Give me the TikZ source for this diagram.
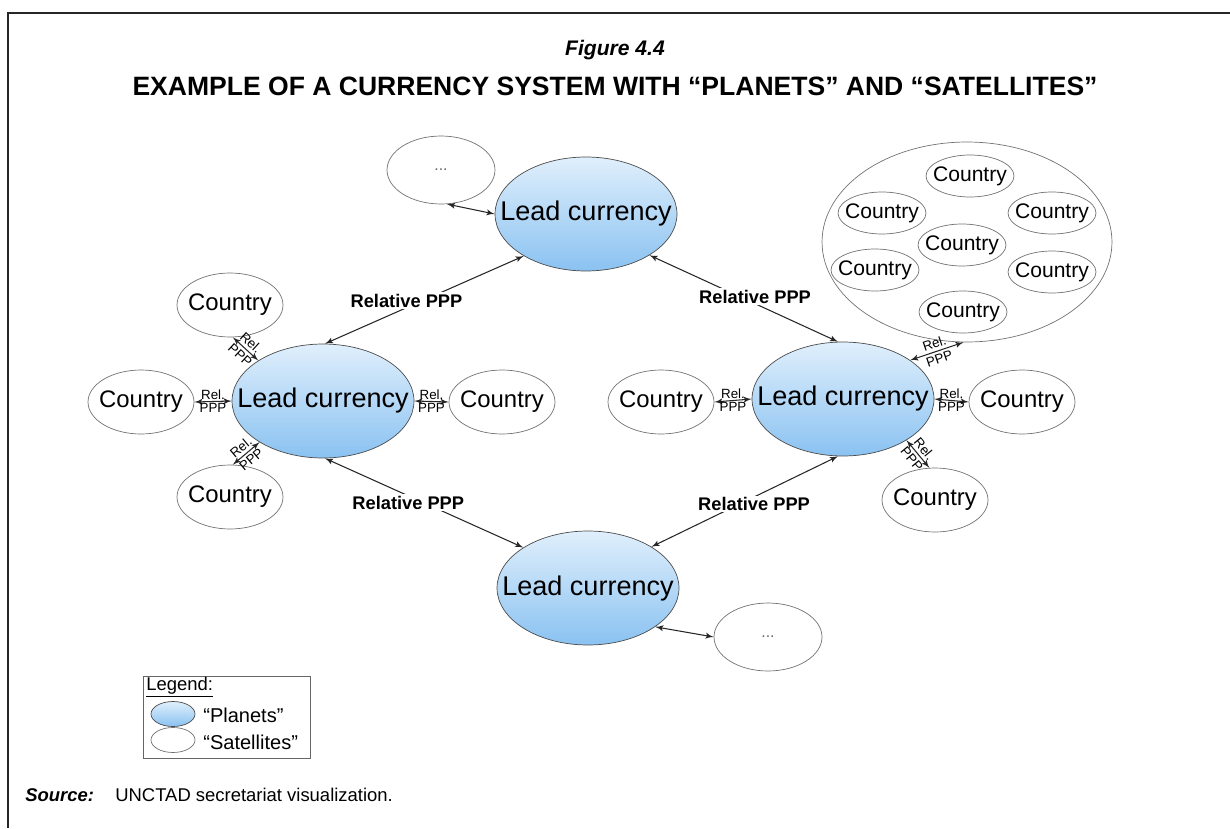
\documentclass[tikz,border=0pt]{standalone}
\usepackage{fontspec}
\setmainfont{Liberation Sans}
\usetikzlibrary{positioning,arrows,shapes.geometric}
\definecolor{planettop}{RGB}{224,239,252}
\definecolor{planetbot}{RGB}{138,194,241}
\tikzset{
    planet/.style = {
        draw=black!70,
        shape=ellipse,
        inner sep=0pt,
        minimum width=3.64cm,
        minimum height=2.28cm,
        top color=planettop,
        bottom color=planetbot,
        label={[inner sep=0pt, font=\fontsize{15.4}{17}\selectfont]center:#1}
    },
    planet/.default=,
    satellite/.style = {
        draw=black!55,
        shape=ellipse,
        inner sep=0pt,
        minimum width=2.12cm,
        minimum height=1.28cm,
        fill=white,
        label={[inner sep=0pt, font=\fontsize{13.6}{15}\selectfont]center:#1}
    },
    satellite/.default=,
    dots/.style = {
        draw=black!55,
        shape=ellipse,
        inner sep=0pt,
        minimum width=2.16cm,
        minimum height=1.36cm,
        fill=white,
        label={[inner sep=0pt, text=black!60, font=\fontsize{9}{10}\selectfont]center:...}
    },
    member/.style = {
        draw=black!55,
        shape=ellipse,
        inner sep=0pt,
        minimum width=1.76cm,
        minimum height=0.84cm,
        fill=white,
        label={[inner sep=0pt, font=\fontsize{12}{13}\selectfont]center:#1}
    },
    group/.style = {
        draw=black!55,
        shape=ellipse,
        minimum width=5.8cm,
        minimum height=4cm
    },
    ppp/.style = {
        fill=white,
        inner sep=1pt,
        font=\bfseries\fontsize{10.4}{12}\selectfont
    },
    rel/.style = {
        inner sep=0.6pt,
        font=\fontsize{7.6}{8}\selectfont
    },
    link/.style = {
        draw=black!85,
        <->,
        line width=0.6pt
    },
    >=latex',
}
\begin{document}
\begin{tikzpicture}[x=0.02cm, y=-0.02cm]
    \useasboundingbox (0,0) rectangle (1230,828);
    \draw[line width=1.1pt, black!85] (8,828) -- (8,12.7) -- (1230,12.7);

    \node (figno) at (615,50) {\fontsize{12}{14}\selectfont\bfseries\itshape Figure 4.4};
    \node (title) at (615,86.5) {\fontsize{15.1}{17}\selectfont\bfseries EXAMPLE OF A CURRENCY SYSTEM WITH “PLANETS” AND “SATELLITES”};

    % planets
    \node[planet=Lead currency] (leadtop) at (586,214) {};
    \node[planet=Lead currency] (leadleft) at (323,401) {};
    \node[planet=Lead currency] (leadright) at (843,399) {};
    \node[planet=Lead currency] (leadbot) at (588,588) {};

    % satellites
    \node[dots] (dotstop) at (441,170) {};
    \node[dots] (dotsbot) at (768,637) {};
    \node[satellite=Country] (cln) at (230,305) {};
    \node[satellite=Country] (clw) at (141,402) {};
    \node[satellite=Country] (cle) at (502,402) {};
    \node[satellite=Country] (cls) at (230,497) {};
    \node[satellite=Country] (crw) at (661,402) {};
    \node[satellite=Country] (cre) at (1022,402) {};
    \node[satellite=Country] (crs) at (935,500) {};

    % group of satellites
    \node[group] (grp) at (967,242) {};
    \node[member=Country] (gtop) at (970,176) {};
    \node[member=Country] (gul) at (882,213) {};
    \node[member=Country] (gur) at (1052,213) {};
    \node[member=Country] (gmid) at (962,245) {};
    \node[member=Country] (gll) at (875,270) {};
    \node[member=Country] (glr) at (1052,272) {};
    \node[member=Country] (gbot) at (963,312) {};

    % relative PPP between planets
    \path[link] (leadtop.214) -- node[ppp, pos=.59, yshift=4pt] {Relative PPP} (leadleft.88);
    \path[link] (leadtop.327) -- node[ppp, pos=.56, yshift=4pt] {Relative PPP} (leadright.95);
    \path[link] (leadleft.272) -- node[ppp, pos=.42, yshift=-4pt] {Relative PPP} (leadbot.148);
    \path[link] (leadright.265) -- node[ppp, pos=.45, yshift=-4pt] {Relative PPP} (leadbot.33);

    % planets and their satellites
    \path[link] (dotstop.280) -- (leadtop.west);
    \path[link] (leadbot.330) -- (dotsbot.west);
    \path[link] (cln.275) -- node[rel, above=1pt, sloped] {Rel.} node[rel, below=1pt, sloped] {PPP} (leadleft.148);
    \path[link] (clw.east) -- node[rel, above] {Rel.} node[rel, below] {PPP} (leadleft.west);
    \path[link] (leadleft.east) -- node[rel, above] {Rel.} node[rel, below] {PPP} (cle.west);
    \path[link] (leadleft.213) -- node[rel, above=1pt, sloped] {Rel.} node[rel, below=1pt, sloped] {PPP} (cls.85);
    \path[link] (crw.east) -- node[rel, above] {Rel.} node[rel, below] {PPP} (leadright.west);
    \path[link] (leadright.east) -- node[rel, above] {Rel.} node[rel, below] {PPP} (cre.west);
    \path[link] (leadright.327) -- node[rel, above=1pt, sloped] {Rel.} node[rel, below=1pt, sloped] {PPP} (crs.100);
    \path[link] (leadright.30) -- node[rel, above=1pt, sloped] {Rel.} node[rel, below=1pt, sloped] {PPP} (grp.268);

    % legend
    \node[draw=black!60, minimum width=3.34cm, minimum height=1.64cm] (legend) at (226.5,717) {};
    \node[anchor=west, inner sep=0pt, font=\fontsize{10.5}{12}\selectfont] (legtitle) at (146,687) {\underline{Legend:}};
    \node[planet, minimum width=0.88cm, minimum height=0.5cm] (legplanet) at (173,714) {};
    \node[satellite, minimum width=0.88cm, minimum height=0.5cm] (legsat) at (173,740) {};
    \node[anchor=west, inner sep=0pt, font=\fontsize{11.4}{13}\selectfont] (legplanettext) at (203,715) {“Planets”};
    \node[anchor=west, inner sep=0pt, font=\fontsize{11.4}{13}\selectfont] (legsattext) at (203,742) {“Satellites”};

    % source
    \node[anchor=west, inner sep=0pt, font=\fontsize{10.5}{12}\selectfont] (srclabel) at (25,795) {\bfseries\itshape Source:};
    \node[anchor=west, inner sep=0pt, font=\fontsize{10.5}{12}\selectfont] (srctext) at (115,795) {UNCTAD secretariat visualization.};
\end{tikzpicture}
\end{document}
